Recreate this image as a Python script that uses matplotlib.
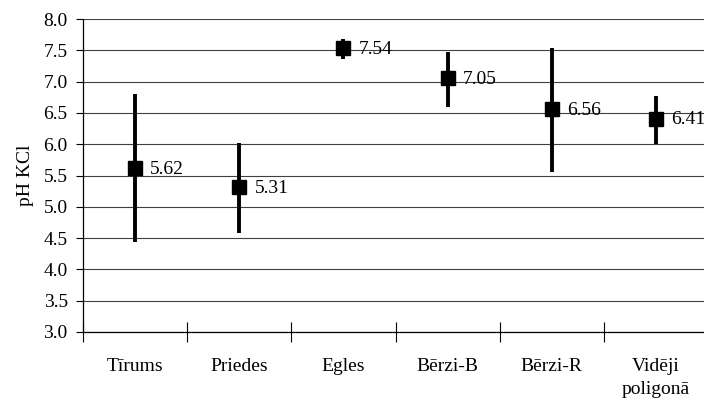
import matplotlib
matplotlib.use('Agg')
import matplotlib.pyplot as plt
import numpy as np

plt.rcParams['font.family'] = ['Liberation Serif', 'DejaVu Serif']

# Data
categories = ['Tīrums', 'Priedes', 'Egles', 'Bērzi-B', 'Bērzi-R', 'Vidēji\npoligonā']
means = [5.62, 5.31, 7.54, 7.05, 6.56, 6.41]
lows = [4.43, 4.58, 7.36, 6.59, 5.55, 6.00]
highs = [6.80, 6.02, 7.68, 7.47, 7.54, 6.77]

x = np.arange(len(categories)) + 0.5
means = np.array(means)
yerr = [means - np.array(lows), np.array(highs) - means]

fs = 14

fig = plt.figure(figsize=(7.04, 4.03), dpi=100)
ax = fig.add_axes([83 / 704, 1 - 332 / 403, 625 / 704, 313 / 403])

# grid lines
for v in np.arange(3.0, 8.01, 0.5):
    ax.axhline(v, color='#404040', linewidth=0.8, zorder=1)

ax.errorbar(x, means, yerr=yerr, fmt='s', color='black', ecolor='black',
            elinewidth=2.8, markersize=9.5, capsize=0, zorder=3)

for xi, m in zip(x, means):
    ax.annotate(f'{m:.2f}', (xi, m), xytext=(11, -1), textcoords='offset points',
                ha='left', va='center', fontsize=fs)

ax.set_xlim(0, len(categories))
ax.set_ylim(3.0, 8.0)
ax.set_yticks(np.arange(3.0, 8.01, 0.5))
ax.set_yticklabels([f'{v:.1f}' for v in np.arange(3.0, 8.01, 0.5)], fontsize=fs)
ax.set_ylabel('pH KCl', fontsize=fs, labelpad=7)

ax.set_xticks(np.arange(0, len(categories) + 1))
ax.set_xticklabels([])
ax.set_xticks(x, minor=True)
ax.set_xticklabels(categories, minor=True, fontsize=fs, linespacing=1.45)
ax.tick_params(axis='x', which='major', direction='inout', length=14, width=0.8)
ax.tick_params(axis='x', which='minor', length=0, pad=19)
ax.tick_params(axis='y', direction='out', length=5, width=0.8, pad=6)

for s in ['top', 'right']:
    ax.spines[s].set_visible(False)
ax.spines['left'].set_linewidth(0.9)
ax.spines['bottom'].set_linewidth(0.9)
ax.set_facecolor('none')

fig.savefig('out.png', dpi=100)
